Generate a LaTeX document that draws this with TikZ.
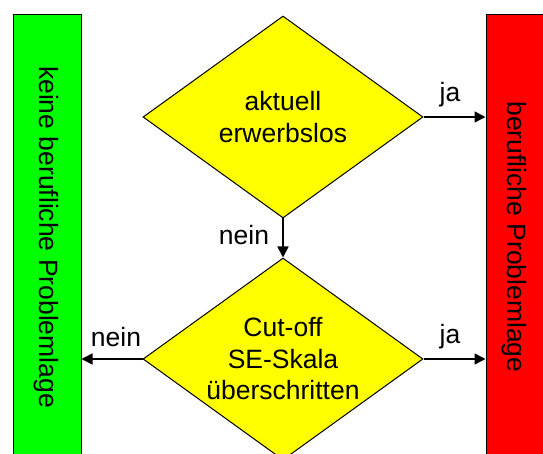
\documentclass[tikz,border=0pt]{standalone}
\usepackage{fontspec}
\setmainfont{Liberation Sans}
\usetikzlibrary{shapes.geometric,arrows.meta}
\definecolor{barGreen}{HTML}{00FF00}
\definecolor{barRed}{HTML}{FF0000}
\definecolor{decYellow}{HTML}{FFFF00}
\tikzset{
  bigfont/.style={font=\fontsize{26.5}{31.5}\selectfont},
  bar/.style={draw=black, line width=1pt, inner sep=0pt},
  decision/.style={shape=diamond, draw=black, line width=1pt, fill=decYellow, inner sep=0pt, minimum width=280pt, minimum height=202pt},
  dectext/.style={bigfont, align=center, inner sep=0pt},
  bartext/.style={bigfont, rotate=-90, inner sep=0pt},
  lbl/.style={bigfont, anchor=base, inner sep=0pt},
  flow/.style={line width=1.6pt, -{Triangle[length=11pt,width=11pt]}}
}
\begin{document}
\begin{tikzpicture}[x=1pt,y=-1pt]
\useasboundingbox (0,0) rectangle (543,454);
\clip (0,0) rectangle (543,454);
\node[bar, fill=barGreen, minimum width=68pt, minimum height=460pt] (green) at (47,245) {};
\node[bar, fill=barRed, minimum width=80pt, minimum height=460pt] (red) at (526,245) {};
\node[bartext] (gt) at (46,237) {keine berufliche Problemlage};
\node[bartext] (rt) at (514,237) {berufliche Problemlage};
\node[decision] (d1) at (283,117) {};
\node[decision] (d2) at (283,359) {};
\node[dectext] (t1) at (d1.center) {aktuell\\erwerbslos};
\node[dectext] (t2) at (d2.center) {Cut-off\\SE-Skala\\überschritten};
\draw[flow] (d1.east) -- (d1.east -| red.west);
\draw[flow] (d1.south) -- (d2.north);
\draw[flow] (d2.east) -- (d2.east -| red.west);
\draw[flow] (d2.west) -- (d2.west -| green.east);
\node[lbl] (ja1) at (450,102) {ja};
\node[lbl] (ja2) at (450,343) {ja};
\node[lbl] (nein1) at (244,244) {nein};
\node[lbl] (nein2) at (116,346) {nein};
\end{tikzpicture}
\end{document}
